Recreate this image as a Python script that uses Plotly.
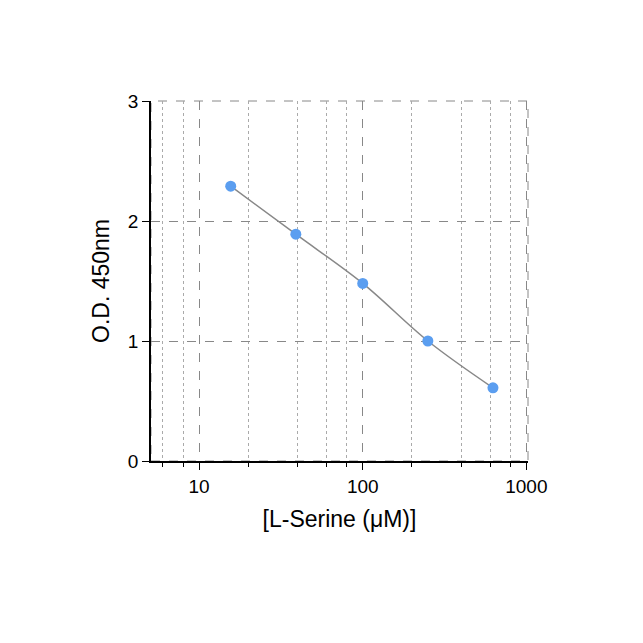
import plotly.graph_objects as go

# standard curve
serine_um = [15.6, 39, 100, 250, 625]
od_450 = [2.29, 1.89, 1.48, 1.00, 0.61]
minor_vals = [6, 8, 20, 40, 60, 80, 200, 400, 600, 800]

fig = go.Figure()
fig.add_trace(go.Scatter(
    x=serine_um, y=od_450, mode="lines",
    line=dict(color="#888888", width=1.5, shape="spline"),
    hoverinfo="skip"
))
fig.add_trace(go.Scatter(
    x=serine_um, y=od_450, mode="markers",
    marker=dict(color="#5b9ef0", size=11)
))

fig.update_layout(
    width=643, height=643,
    paper_bgcolor="white", plot_bgcolor="white",
    showlegend=False,
    font=dict(family="Liberation Sans, Arial", size=19, color="black"),
    margin=dict(l=143, r=123, t=93, b=190),
)
fig.update_xaxes(
    type="log", range=[0.706, 3.01],
    title=dict(text="[L-Serine (μM)]", standoff=15),
    tickvals=[10, 100, 1000], ticktext=["10", "100", "1000"],
    ticks="outside", ticklen=7, tickcolor="black",
    showline=True, linecolor="black", linewidth=1.5,
    showgrid=True, gridcolor="#888888", griddash="dash", gridwidth=1,
    minor=dict(tickvals=minor_vals, ticks="outside", ticklen=4, tickcolor="black",
               showgrid=True, gridcolor="#aaaaaa", griddash="dot", gridwidth=1),
    mirror=False, zeroline=False,
)
fig.update_yaxes(
    range=[0, 3], dtick=1,
    title=dict(text="O.D. 450nm", standoff=12),
    ticks="outside", ticklen=7, tickcolor="black",
    showline=True, linecolor="black", linewidth=1.5,
    showgrid=True, gridcolor="#888888", griddash="dash", gridwidth=1,
    zeroline=False,
)
# dashed frame on top/right
fig.add_shape(type="rect", xref="paper", yref="paper", x0=0, y0=0, x1=1, y1=1,
              line=dict(color="#888888", width=1, dash="dash"), layer="below")

fig.write_html("out.html")
